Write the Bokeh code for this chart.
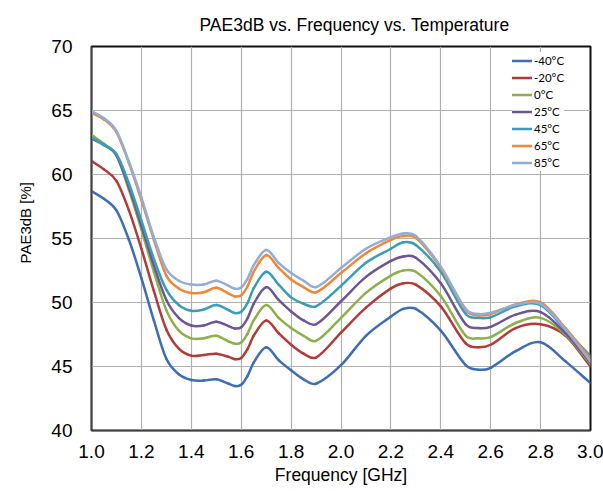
from bokeh.plotting import figure
from bokeh.models import Range1d, FixedTicker, PrintfTickFormatter, Title
from bokeh.embed import file_html
from bokeh.resources import INLINE

freq = [1.0, 1.05, 1.1, 1.15, 1.2, 1.25, 1.3, 1.35, 1.4, 1.45, 1.5, 1.55, 1.575, 1.6, 1.625,
        1.65, 1.7, 1.75, 1.8, 1.85, 1.9, 2.0, 2.1, 2.2, 2.25, 2.3, 2.4, 2.5,
        2.55, 2.6, 2.7, 2.8, 2.9, 3.0]

pae_m40 = [58.7, 58.1, 57.2, 54.9, 51.9, 48.6, 45.6, 44.4, 43.95, 43.9, 44.0, 43.65, 43.47, 43.57, 44.25,
           45.3, 46.5, 45.5, 44.7, 44.0, 43.65, 45.1, 47.4, 48.9, 49.5, 49.5, 47.8, 45.1,
           44.75, 44.9, 46.2, 46.9, 45.4, 43.7]
pae_m20 = [61.05, 60.4, 59.5, 57.2, 54.2, 50.9, 47.9, 46.4, 45.85, 45.9, 46.0, 45.75, 45.57, 45.67, 46.35,
           47.4, 48.6, 47.6, 46.7, 46.0, 45.7, 47.65, 49.6, 51.1, 51.5, 51.4, 49.7, 46.8,
           46.5, 46.7, 48.0, 48.3, 47.4, 45.0]
pae_0 = [63.1, 62.4, 61.5, 58.8, 55.7, 52.4, 49.4, 47.8, 47.2, 47.2, 47.4, 46.95, 46.77, 46.87, 47.55,
         48.6, 49.8, 48.8, 48.0, 47.4, 47.0, 48.8, 50.75, 52.1, 52.5, 52.4, 50.5, 47.4,
         47.2, 47.3, 48.4, 48.8, 47.5, 45.2]
pae_25 = [62.8, 62.3, 61.5, 59.0, 56.0, 52.9, 50.2, 48.8, 48.2, 48.2, 48.5, 48.15, 47.97, 48.07, 48.75,
          49.9, 51.2, 50.2, 49.3, 48.6, 48.3, 50.1, 52.0, 53.25, 53.6, 53.5, 51.5, 48.3,
          48.0, 48.1, 49.05, 49.25, 47.6, 45.3]
pae_45 = [62.9, 62.3, 61.6, 59.3, 56.4, 53.4, 51.0, 49.8, 49.35, 49.45, 49.8, 49.4, 49.17, 49.27, 49.95,
          51.1, 52.4, 51.4, 50.4, 49.9, 49.7, 51.3, 53.1, 54.2, 54.7, 54.5, 52.4, 49.1,
          48.8, 48.85, 49.7, 49.8, 47.85, 45.8]
pae_65 = [64.8, 64.3, 63.3, 60.9, 58.0, 54.9, 52.1, 51.1, 50.75, 50.8, 51.15, 50.7, 50.47, 50.57, 51.25,
          52.4, 53.7, 52.7, 51.8, 51.2, 50.8, 52.3, 53.85, 54.9, 55.2, 55.05, 52.7, 49.4,
          49.0, 49.1, 49.85, 50.0, 48.0, 45.6]
pae_85 = [64.95, 64.4, 63.4, 61.0, 58.2, 55.1, 52.6, 51.7, 51.4, 51.4, 51.7, 51.3, 51.07, 51.17, 51.85,
          52.9, 54.1, 53.1, 52.3, 51.7, 51.2, 52.7, 54.2, 55.1, 55.4, 55.2, 52.8, 49.5,
          49.1, 49.2, 49.8, 49.9, 47.9, 45.4]

labels = ["-40°C", "-20°C", "0°C", "25°C", "45°C", "65°C", "85°C"]
colors = ["#3f6db3", "#b23b38", "#8cb04b", "#6c5693", "#3a9db8", "#ee8738", "#93acd8"]
values = [pae_m40, pae_m20, pae_0, pae_25, pae_45, pae_65, pae_85]

x_ticks = [1.0, 1.2, 1.4, 1.6, 1.8, 2.0, 2.2, 2.4, 2.6, 2.8, 3.0]
y_ticks = [40, 45, 50, 55, 60, 65, 70]

FONT = "Liberation Sans"


def smooth_segments(xs, ys):
    """Bezier control points (smoothed-line rendering) through the data points."""
    n = len(xs)
    slopes = []
    for i in range(n):
        if i == 0:
            m = (ys[1] - ys[0]) / (xs[1] - xs[0])
        elif i == n - 1:
            m = (ys[-1] - ys[-2]) / (xs[-1] - xs[-2])
        else:
            m = (ys[i + 1] - ys[i - 1]) / (xs[i + 1] - xs[i - 1])
        slopes.append(m)
    d = dict(x0=[], y0=[], x1=[], y1=[], cx0=[], cy0=[], cx1=[], cy1=[])
    for i in range(n - 1):
        h = xs[i + 1] - xs[i]
        d["x0"].append(xs[i]); d["y0"].append(ys[i])
        d["x1"].append(xs[i + 1]); d["y1"].append(ys[i + 1])
        d["cx0"].append(xs[i] + h / 3); d["cy0"].append(ys[i] + slopes[i] * h / 3)
        d["cx1"].append(xs[i + 1] - h / 3); d["cy1"].append(ys[i + 1] - slopes[i + 1] * h / 3)
    return d


p = figure(width=603, height=491, output_backend="svg", toolbar_location=None,
           x_range=Range1d(1.0, 3.0), y_range=Range1d(40, 70),
           min_border_left=91, min_border_right=13, min_border_top=44,
           min_border_bottom=61, background_fill_color="white",
           border_fill_color="white")

p.title.text = "PAE3dB vs. Frequency vs. Temperature"
p.title.align = "left"
p.title.offset = 108
p.title.standoff = 24
p.title.text_font = FONT
p.title.text_font_size = "17.5px"
p.title.text_font_style = "normal"
p.title.text_color = "#000000"

p.add_layout(Title(text="PAE3dB [%]", align="left", offset=167, text_font=FONT,
                   text_font_size="15px", text_font_style="normal",
                   vertical_align="top", text_color="#000000", standoff=26), "left")

for lab, col, vals in zip(labels, colors, values):
    seg = smooth_segments(freq, vals)
    p.bezier(source=seg, x0="x0", y0="y0", x1="x1", y1="y1", cx0="cx0", cy0="cy0",
             cx1="cx1", cy1="cy1", line_color=col, line_width=2.5,
             line_cap="round", legend_label=lab)

p.xaxis.ticker = FixedTicker(ticks=x_ticks)
p.xaxis.formatter = PrintfTickFormatter(format="%.1f")
p.yaxis.ticker = FixedTicker(ticks=y_ticks)
p.xgrid.ticker = FixedTicker(ticks=x_ticks)
p.ygrid.ticker = FixedTicker(ticks=y_ticks)

for ax in (p.xaxis[0], p.yaxis[0]):
    ax.major_tick_out = 0
    ax.major_tick_in = 0
    ax.minor_tick_out = 0
    ax.minor_tick_in = 0
    ax.axis_line_color = "#404040"
    ax.axis_line_width = 1
    ax.major_label_text_font = FONT
    ax.major_label_text_font_size = "19px"
    ax.major_label_text_color = "#000000"

p.yaxis.major_label_standoff = 19
p.xaxis.major_label_standoff = 14
p.xaxis.axis_label = "Frequency [GHz]"
p.xaxis.axis_label_text_font = FONT
p.xaxis.axis_label_text_font_size = "17.5px"
p.xaxis.axis_label_text_font_style = "normal"
p.xaxis.axis_label_text_color = "#000000"
p.xaxis.axis_label_standoff = 4

p.grid.grid_line_color = "#b0b0b0"
p.grid.grid_line_width = 1.2

p.outline_line_color = "#111111"
p.outline_line_width = 2

leg = p.legend[0]
leg.location = (421, 259)
leg.padding = 10
leg.margin = 0
leg.glyph_width = 20
leg.glyph_height = 17
leg.label_height = 17
leg.spacing = 0
leg.label_standoff = 2
leg.label_text_font = "Lato"
leg.label_text_font_size = "11.5px"
leg.label_text_color = "#000000"
leg.border_line_color = None
leg.background_fill_color = "white"
leg.background_fill_alpha = 1.0

open("out.html", "w").write(file_html(p, INLINE))
